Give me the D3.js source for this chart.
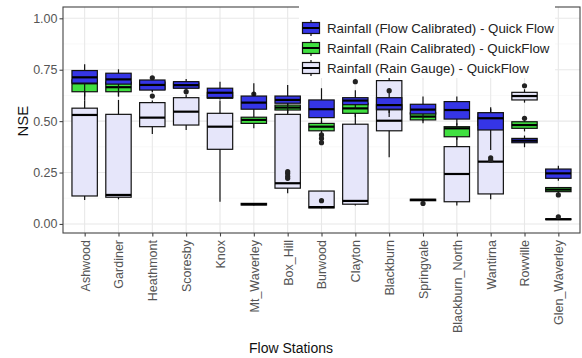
<!DOCTYPE html>
<html>
<head>
<meta charset="utf-8">
<script src="https://cdn.jsdelivr.net/npm/d3@7"></script>
<style>
  body { margin: 0; background: #fff; }
  svg { display: block; font-family: 'Liberation Sans', Arial, sans-serif; }
</style>
</head>
<body>
<svg class="box-chart"></svg>
<script>
const stations = ['Ashwood', 'Gardiner', 'Heathmont', 'Scoresby', 'Knox', 'Mt_Waverley', 'Box_Hill',
  'Burwood', 'Clayton', 'Blackburn', 'Springvale', 'Blackburn_North', 'Wantirna', 'Rowville', 'Glen_Waverley'];

const seriesNames = [
  'Rainfall (Flow Calibrated) - Quick Flow',
  'Rainfall (Rain Calibrated) - QuickFlow',
  'Rainfall (Rain Gauge) - QuickFlow'
];

// [lower whisker, q1, median, q3, upper whisker] per station
const flowCalibrated = [
  [0.60, 0.685, 0.713, 0.746, 0.777],
  [0.62, 0.680, 0.703, 0.733, 0.752],
  [0.64, 0.651, 0.676, 0.700, 0.700],
  [0.66, 0.660, 0.675, 0.692, 0.705],
  [0.61, 0.615, 0.638, 0.660, 0.692],
  [0.53, 0.558, 0.590, 0.622, 0.684],
  [0.55, 0.587, 0.603, 0.622, 0.676],
  [0.49, 0.517, 0.558, 0.603, 0.660],
  [0.56, 0.580, 0.600, 0.614, 0.650],
  [0.52, 0.558, 0.578, 0.614, 0.640],
  [0.50, 0.535, 0.556, 0.582, 0.620],
  [0.48, 0.510, 0.554, 0.595, 0.620],
  [0.36, 0.457, 0.514, 0.541, 0.567],
  [0.373, 0.395, 0.405, 0.416, 0.430],
  [0.21, 0.222, 0.246, 0.267, 0.283]
];
const flowOutliers = [[], [], [0.711], [0.643], [], [], [], [], [0.692], [0.648], [], [], [], [], []];

const rainCalibrated = [
  [0.62, 0.643, 0.684, 0.700, 0.720],
  [0.62, 0.643, 0.665, 0.690, 0.710],
  [0.645, 0.655, 0.670, 0.690, 0.700],
  [0.66, 0.662, 0.672, 0.685, 0.690],
  [0.605, 0.611, 0.620, 0.640, 0.650],
  [0.465, 0.489, 0.506, 0.519, 0.530],
  [0.54, 0.554, 0.566, 0.578, 0.590],
  [0.44, 0.453, 0.473, 0.489, 0.500],
  [0.52, 0.538, 0.562, 0.587, 0.600],
  [0.54, 0.555, 0.565, 0.580, 0.590],
  [0.49, 0.506, 0.522, 0.540, 0.560],
  [0.41, 0.424, 0.465, 0.473, 0.490],
  [0.47, 0.480, 0.500, 0.520, 0.530],
  [0.45, 0.465, 0.481, 0.497, 0.505],
  [0.15, 0.157, 0.167, 0.177, 0.180]
];
const rainOutliers = [[], [], [], [], [], [0.632], [], [0.433, 0.416, 0.395], [], [], [], [], [], [0.514], [0.141]];

const rainGauge = [
  [0.117, 0.136, 0.530, 0.563, 0.600],
  [0.120, 0.130, 0.141, 0.533, 0.603],
  [0.437, 0.473, 0.517, 0.590, 0.600],
  [0.457, 0.481, 0.546, 0.614, 0.630],
  [0.108, 0.363, 0.473, 0.538, 0.600],
  [0.090, 0.092, 0.096, 0.100, 0.100],
  [0.149, 0.174, 0.198, 0.533, 0.580],
  [0.076, 0.078, 0.082, 0.160, 0.160],
  [0.090, 0.096, 0.112, 0.485, 0.550],
  [0.324, 0.453, 0.502, 0.697, 0.716],
  [0.110, 0.113, 0.117, 0.120, 0.120],
  [0.090, 0.108, 0.243, 0.376, 0.420],
  [0.120, 0.146, 0.303, 0.540, 0.560],
  [0.590, 0.603, 0.622, 0.640, 0.655],
  [0.020, 0.021, 0.023, 0.025, 0.026]
];
const gaugeOutliers = [[], [], [0.622], [], [], [], [0.222, 0.232, 0.245, 0.254], [0.113], [], [], [0.100], [], [0.322, 0.310], [0.672], [0.035]];

const yTicks = [0, 0.25, 0.5, 0.75, 1];
const yMinorTicks = [0.125, 0.375, 0.625, 0.875];

const fills = ['#3535e6', '#40e040', '#e6e6fa'];

const width = 582,
      height = 358,
      panel = {left: 63, right: 580, top: 7, bottom: 233};

const svg = d3.select('.box-chart')
              .attr('width', width)
              .attr('height', height);

const yScale = d3.scaleLinear()
                 .domain([-0.044, 1.055])
                 .range([panel.bottom, panel.top]);

const xScale = d3.scalePoint()
                 .domain(stations)
                 .range([panel.left, panel.right])
                 .padding(0.64);

const boxWidth = xScale.step() * 0.75;

// grid
svg.append('g')
   .selectAll('line')
   .data(yMinorTicks)
   .enter()
   .append('line')
   .attr('x1', panel.left)
   .attr('x2', panel.right)
   .attr('y1', d => yScale(d))
   .attr('y2', d => yScale(d))
   .attr('stroke', '#f4f4f4')
   .attr('stroke-width', 0.6);

svg.append('g')
   .selectAll('line')
   .data(yTicks)
   .enter()
   .append('line')
   .attr('x1', panel.left)
   .attr('x2', panel.right)
   .attr('y1', d => yScale(d))
   .attr('y2', d => yScale(d))
   .attr('stroke', '#e8e8e8')
   .attr('stroke-width', 1.1);

svg.append('g')
   .selectAll('line')
   .data(stations)
   .enter()
   .append('line')
   .attr('x1', d => xScale(d))
   .attr('x2', d => xScale(d))
   .attr('y1', panel.top)
   .attr('y2', panel.bottom)
   .attr('stroke', '#e8e8e8')
   .attr('stroke-width', 1.1);

function drawSeries(stats, outliers, fill) {
  const g = svg.append('g');
  const rows = stations.map((s, i) => ({station: s, v: stats[i], out: outliers[i]}));

  g.selectAll('line.whisker')
   .data(rows)
   .enter()
   .append('line')
   .attr('class', 'whisker')
   .attr('x1', d => xScale(d.station))
   .attr('x2', d => xScale(d.station))
   .attr('y1', d => yScale(d.v[0]))
   .attr('y2', d => yScale(d.v[4]))
   .attr('stroke', '#111')
   .attr('stroke-width', 1.2);

  g.selectAll('rect')
   .data(rows)
   .enter()
   .append('rect')
   .attr('x', d => xScale(d.station) - boxWidth / 2)
   .attr('width', boxWidth)
   .attr('y', d => yScale(d.v[3]))
   .attr('height', d => Math.max(0.5, yScale(d.v[1]) - yScale(d.v[3])))
   .attr('fill', fill)
   .attr('stroke', '#111')
   .attr('stroke-width', 1.2);

  g.selectAll('line.median')
   .data(rows)
   .enter()
   .append('line')
   .attr('class', 'median')
   .attr('x1', d => xScale(d.station) - boxWidth / 2)
   .attr('x2', d => xScale(d.station) + boxWidth / 2)
   .attr('y1', d => yScale(d.v[2]))
   .attr('y2', d => yScale(d.v[2]))
   .attr('stroke', '#000')
   .attr('stroke-width', 2.2);

  const pts = [];
  rows.forEach(d => d.out.forEach(o => pts.push([d.station, o])));

  g.selectAll('circle')
   .data(pts)
   .enter()
   .append('circle')
   .attr('cx', d => xScale(d[0]))
   .attr('cy', d => yScale(d[1]))
   .attr('r', 2.6)
   .attr('fill', '#222');
}

drawSeries(rainGauge, gaugeOutliers, fills[2]);
drawSeries(rainCalibrated, rainOutliers, fills[1]);
drawSeries(flowCalibrated, flowOutliers, fills[0]);

// panel border
svg.append('rect')
   .attr('x', panel.left)
   .attr('y', panel.top)
   .attr('width', panel.right - panel.left)
   .attr('height', panel.bottom - panel.top)
   .attr('fill', 'none')
   .attr('stroke', '#444')
   .attr('stroke-width', 1.1);

// axes
const yAxis = d3.axisLeft(yScale)
                .tickValues(yTicks)
                .tickFormat(d3.format('.2f'))
                .tickSize(3.5)
                .tickPadding(2);

const yG = svg.append('g')
              .attr('transform', 'translate(' + panel.left + ',0)')
              .call(yAxis);

const xAxis = d3.axisBottom(xScale)
                .tickSize(3.5)
                .tickPadding(3);

const xG = svg.append('g')
              .attr('transform', 'translate(0,' + panel.bottom + ')')
              .call(xAxis);

[yG, xG].forEach(g => {
  g.select('.domain').remove();
  g.selectAll('.tick line').attr('stroke', '#444').attr('stroke-width', 1.1);
  g.selectAll('.tick text').attr('fill', '#555').style('font-size', '12.5px');
});

xG.selectAll('.tick text')
  .attr('transform', 'rotate(-90)')
  .attr('text-anchor', 'end')
  .attr('dy', '0.35em')
  .attr('x', -7)
  .attr('y', 0);

svg.append('text')
   .attr('x', 291)
   .attr('y', 353)
   .attr('text-anchor', 'middle')
   .style('font-size', '14px')
   .attr('fill', '#111')
   .text('Flow Stations');

svg.append('text')
   .attr('transform', 'translate(28,' + yScale(0.5) + ') rotate(-90)')
   .attr('text-anchor', 'middle')
   .style('font-size', '15px')
   .attr('fill', '#111')
   .text('NSE');

// legend
const legend = svg.append('g');

legend.append('rect')
      .attr('x', 299)
      .attr('y', 4)
      .attr('width', 256)
      .attr('height', 74)
      .attr('fill', '#fff');

const legendRows = legend.selectAll('g.key')
                         .data(seriesNames)
                         .enter()
                         .append('g')
                         .attr('class', 'key')
                         .attr('transform', (d, i) => 'translate(311,' + (28 + i * 20) + ')');

legendRows.append('line')
          .attr('y1', -8)
          .attr('y2', 8)
          .attr('stroke', '#111')
          .attr('stroke-width', 1.2);

legendRows.append('rect')
          .attr('x', -8.5)
          .attr('y', -5.5)
          .attr('width', 17)
          .attr('height', 11)
          .attr('fill', (d, i) => fills[i])
          .attr('stroke', '#111')
          .attr('stroke-width', 1.2);

legendRows.append('line')
          .attr('x1', -8.5)
          .attr('x2', 8.5)
          .attr('stroke', '#000')
          .attr('stroke-width', 2);

legendRows.append('text')
          .attr('x', 16)
          .attr('dy', '0.36em')
          .style('font-size', '13.3px')
          .attr('fill', '#222')
          .text(d => d);
</script>
</body>
</html>
